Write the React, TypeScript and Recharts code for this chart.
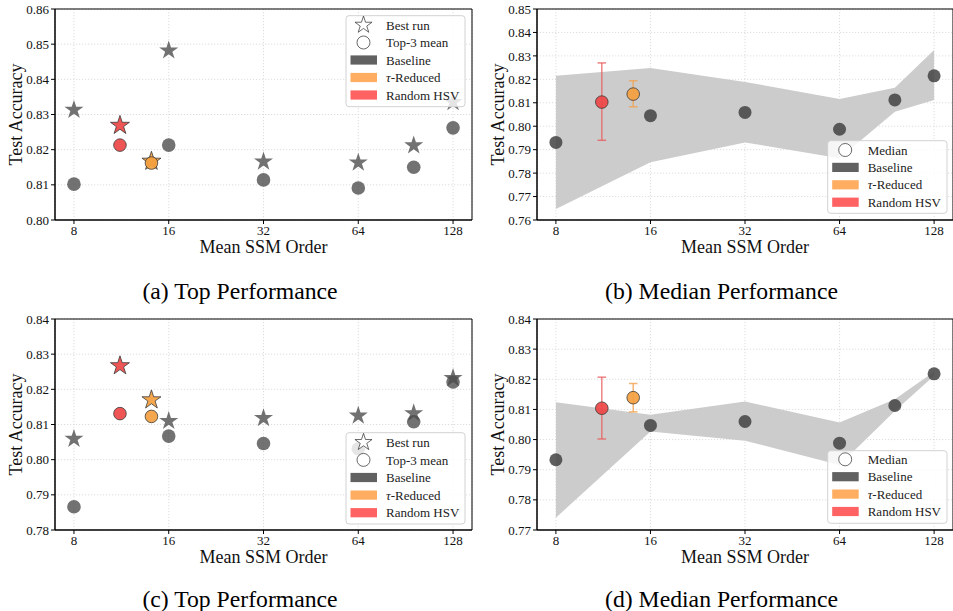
import React from 'react';
import {
  ComposedChart,
  Scatter,
  Area,
  XAxis,
  YAxis,
  CartesianGrid,
  ErrorBar,
  ReferenceArea,
} from 'recharts';

const FONT = '"Liberation Serif", "Times New Roman", serif';

// ---------- data ----------
const X_TICKS = [8, 16, 32, 64, 128];
const X_DOMAIN: [number, number] = [6.964, 147.03]; // 2^2.8 .. 2^7.2

const BASELINE_ORDERS = [8, 16, 32, 64, 96, 128];
const RANDOM_ORDER = 11.2;
const TAU_ORDER = 14.1;

// (a) Top Performance
const A_BASE_BEST = [0.8313, 0.8482, 0.8166, 0.8163, 0.8212, 0.8335];
const A_BASE_MEAN = [0.8102, 0.8213, 0.8114, 0.8091, 0.815, 0.8262];
const A_RAND_BEST = 0.8269;
const A_RAND_MEAN = 0.8213;
const A_TAU_BEST = 0.8167;
const A_TAU_MEAN = 0.8162;
const A_Y_TICKS = [0.8, 0.81, 0.82, 0.83, 0.84, 0.85, 0.86];

// (b) Median Performance
const B_BASE_MED = [0.7931, 0.8045, 0.8059, 0.7987, 0.8112, 0.8215];
const B_BAND_LOW = [0.7647, 0.7846, 0.7931, 0.7863, 0.8062, 0.8112];
const B_BAND_HIGH = [0.8215, 0.8248, 0.8189, 0.8116, 0.8164, 0.8325];
const B_RAND_MED = 0.8103;
const B_RAND_RANGE = [0.794, 0.827];
const B_TAU_MED = 0.8137;
const B_TAU_RANGE = [0.8083, 0.8194];
const B_Y_TICKS = [0.76, 0.77, 0.78, 0.79, 0.8, 0.81, 0.82, 0.83, 0.84, 0.85];

// (c) Top Performance
const C_BASE_BEST = [0.8059, 0.811, 0.8118, 0.8125, 0.8132, 0.8232];
const C_BASE_MEAN = [0.7866, 0.8067, 0.8046, 0.8031, 0.8108, 0.8221];
const C_RAND_BEST = 0.8267;
const C_RAND_MEAN = 0.8131;
const C_TAU_BEST = 0.817;
const C_TAU_MEAN = 0.8123;
const C_Y_TICKS = [0.78, 0.79, 0.8, 0.81, 0.82, 0.83, 0.84];

// (d) Median Performance
const D_BASE_MED = [0.7933, 0.8047, 0.806, 0.7988, 0.8113, 0.8218];
const D_BAND_LOW = [0.7741, 0.8027, 0.7996, 0.7916, 0.8095, 0.8212];
const D_BAND_HIGH = [0.8124, 0.8082, 0.8126, 0.8057, 0.8134, 0.8225];
const D_RAND_MED = 0.8104;
const D_RAND_RANGE = [0.8002, 0.8207];
const D_TAU_MED = 0.8139;
const D_TAU_RANGE = [0.8092, 0.8186];
const D_Y_TICKS = [0.77, 0.78, 0.79, 0.8, 0.81, 0.82, 0.83, 0.84];

// ---------- colours ----------
const RED = '#ee4646';
const ORANGE = '#f3a040';
const EDGE = '#3a3a3a';

// ---------- helpers ----------
const pts = (xs: number[], ys: number[]) => xs.map((x, i) => ({ x, y: ys[i] }));
const withErr = (x: number, y: number, range: number[]) => [
  { x, y, err: [y - range[0], range[1] - y] },
];

const starPath = (cx: number, cy: number, R: number) => {
  const r = R * 0.382;
  let d = '';
  for (let i = 0; i < 10; i++) {
    const rad = i % 2 === 0 ? R : r;
    const a = -Math.PI / 2 + (i * Math.PI) / 5;
    d += (i === 0 ? 'M' : 'L') + (cx + rad * Math.cos(a)).toFixed(2) + ',' + (cy + rad * Math.sin(a)).toFixed(2);
  }
  return d + 'Z';
};

const starShape = (fill: string, opacity: number, stroke?: string) => (p: any) => (
  <path
    d={starPath(p.cx, p.cy, 10)}
    fill={fill}
    fillOpacity={opacity}
    stroke={stroke ?? 'none'}
    strokeWidth={0.8}
  />
);

const circleShape = (fill: string, opacity: number, r: number, stroke?: string) => (p: any) => (
  <circle
    cx={p.cx}
    cy={p.cy}
    r={r}
    fill={fill}
    fillOpacity={opacity}
    stroke={stroke ?? 'none'}
    strokeWidth={0.8}
  />
);

const tickStyle = { fontFamily: FONT, fontSize: 13, fill: '#111' };

type PanelProps = {
  left: number;
  top: number;
  width: number;
  yAxisWidth: number;
  rightMargin: number;
  yTicks: number[];
  yLabelOffset: number;
  band?: { x: number; band: number[] }[];
  children: React.ReactNode;
};

function Panel({ left, top, width, yAxisWidth, rightMargin, yTicks, yLabelOffset, band, children }: PanelProps) {
  const yDomain: [number, number] = [yTicks[0], yTicks[yTicks.length - 1]];
  return (
    <div style={{ position: 'absolute', left, top }}>
      <ComposedChart
        width={width}
        height={262}
        data={band ?? []}
        margin={{ top: 9, right: rightMargin, left: 0, bottom: 0 }}
      >
        <CartesianGrid stroke="#d4d4d4" strokeDasharray="1.2 1.8" strokeWidth={0.8} />
        <XAxis
          dataKey="x"
          type="number"
          scale="log"
          domain={X_DOMAIN}
          allowDataOverflow
          ticks={X_TICKS}
          tickFormatter={(v: number) => String(v)}
          height={42}
          tickSize={4}
          tickMargin={2}
          tick={tickStyle}
          axisLine={{ stroke: '#000' }}
          tickLine={{ stroke: '#000' }}
          label={{
            value: 'Mean SSM Order',
            position: 'insideBottom',
            offset: 9,
            style: { fontFamily: FONT, fontSize: 18, fill: '#111' },
          }}
        />
        <YAxis
          type="number"
          domain={yDomain}
          allowDataOverflow
          ticks={yTicks}
          tickFormatter={(v: number) => v.toFixed(2)}
          width={yAxisWidth}
          tickSize={4}
          tickMargin={2}
          tick={tickStyle}
          axisLine={{ stroke: '#000' }}
          tickLine={{ stroke: '#000' }}
          label={{
            value: 'Test Accuracy',
            angle: -90,
            position: 'insideLeft',
            offset: yLabelOffset,
            style: { fontFamily: FONT, fontSize: 18, fill: '#111', textAnchor: 'middle' },
          }}
        />
        {children}
        <ReferenceArea
          x1={X_DOMAIN[0]}
          x2={X_DOMAIN[1]}
          y1={yDomain[0]}
          y2={yDomain[1]}
          fill="none"
          fillOpacity={0}
          stroke="#000"
          strokeWidth={1}
          ifOverflow="visible"
        />
      </ComposedChart>
    </div>
  );
}

function topSeries(
  baseBest: number[],
  baseMean: number[],
  randBest: number,
  randMean: number,
  tauBest: number,
  tauMean: number
) {
  return [
    <Scatter key="bb" data={pts(BASELINE_ORDERS, baseBest)} dataKey="y" isAnimationActive={false} shape={starShape('#4a4a4a', 0.78)} />,
    <Scatter key="bm" data={pts(BASELINE_ORDERS, baseMean)} dataKey="y" isAnimationActive={false} shape={circleShape('#4a4a4a', 0.78, 6.8)} />,
    <Scatter key="rb" data={[{ x: RANDOM_ORDER, y: randBest }]} dataKey="y" isAnimationActive={false} shape={starShape(RED, 0.92, EDGE)} />,
    <Scatter key="rm" data={[{ x: RANDOM_ORDER, y: randMean }]} dataKey="y" isAnimationActive={false} shape={circleShape(RED, 0.92, 6.3, EDGE)} />,
    <Scatter key="tb" data={[{ x: TAU_ORDER, y: tauBest }]} dataKey="y" isAnimationActive={false} shape={starShape(ORANGE, 0.92, EDGE)} />,
    <Scatter key="tm" data={[{ x: TAU_ORDER, y: tauMean }]} dataKey="y" isAnimationActive={false} shape={circleShape(ORANGE, 0.92, 6.3, EDGE)} />,
  ];
}

function medianSeries(
  baseMed: number[],
  randMed: number,
  randRange: number[],
  tauMed: number,
  tauRange: number[]
) {
  return [
    <Area key="band" dataKey="band" type="linear" fill="#cccccc" fillOpacity={1} stroke="none" isAnimationActive={false} />,
    <Scatter key="bm" data={pts(BASELINE_ORDERS, baseMed)} dataKey="y" isAnimationActive={false} shape={circleShape('#444444', 0.86, 6.5)} />,
    <Scatter key="rm" data={withErr(RANDOM_ORDER, randMed, randRange)} dataKey="y" isAnimationActive={false} shape={circleShape(RED, 0.92, 6.3, EDGE)}>
      <ErrorBar dataKey="err" direction="y" width={4.3} stroke="#ea5a5a" strokeOpacity={0.75} strokeWidth={1.5} />
    </Scatter>,
    <Scatter key="tm" data={withErr(TAU_ORDER, tauMed, tauRange)} dataKey="y" isAnimationActive={false} shape={circleShape(ORANGE, 0.92, 6.3, EDGE)}>
      <ErrorBar dataKey="err" direction="y" width={4.3} stroke="#f3a250" strokeOpacity={0.8} strokeWidth={1.5} />
    </Scatter>,
  ];
}

const bandData = (low: number[], high: number[]) =>
  BASELINE_ORDERS.map((x, i) => ({ x, band: [low[i], high[i]] }));

// ---------- legends & captions (overlay) ----------
type Row = { kind: 'star' | 'circle' | 'patch'; color?: string; label: React.ReactNode };

const TOP_ROWS: Row[] = [
  { kind: 'star', label: 'Best run' },
  { kind: 'circle', label: 'Top-3 mean' },
  { kind: 'patch', color: '#616161', label: 'Baseline' },
  { kind: 'patch', color: '#ffad60', label: <><tspan fontStyle="italic">τ</tspan>-Reduced</> },
  { kind: 'patch', color: '#ff6262', label: 'Random HSV' },
];
const MED_ROWS: Row[] = [
  { kind: 'circle', label: 'Median' },
  { kind: 'patch', color: '#616161', label: 'Baseline' },
  { kind: 'patch', color: '#ffad60', label: <><tspan fontStyle="italic">τ</tspan>-Reduced</> },
  { kind: 'patch', color: '#ff6262', label: 'Random HSV' },
];

function LegendBox({ x, y, w, h, rows, firstRow, step }: { x: number; y: number; w: number; h: number; rows: Row[]; firstRow: number; step: number }) {
  const ix = x + 17.5;
  return (
    <g>
      <rect x={x} y={y} width={w} height={h} rx={3} fill="#ffffff" fillOpacity={0.82} stroke="#d2d2d2" strokeWidth={1} />
      {rows.map((r, i) => {
        const cy = firstRow + i * step;
        let icon: React.ReactNode;
        if (r.kind === 'star') icon = <path d={starPath(ix, cy, 9)} fill="#fff" stroke="#444" strokeWidth={0.8} />;
        else if (r.kind === 'circle') icon = <circle cx={ix} cy={cy} r={6.5} fill="#fff" stroke="#444" strokeWidth={0.8} />;
        else icon = <rect x={ix - 13} y={cy - 4.6} width={26.5} height={9.2} fill={r.color} />;
        return (
          <g key={i}>
            {icon}
            <text x={x + 40} y={cy + 4.6} fontFamily={FONT} fontSize={13} fill="#222">
              {r.label}
            </text>
          </g>
        );
      })}
    </g>
  );
}

function Overlay() {
  const cap = { fontFamily: FONT, fontSize: 23.7, fill: '#000', textAnchor: 'middle' as const };
  return (
    <svg width={953} height={611} style={{ position: 'absolute', left: 0, top: 0, pointerEvents: 'none' }}>
      <LegendBox x={346} y={15.7} w={119} h={91} rows={TOP_ROWS} firstRow={25} step={17.5} />
      <LegendBox x={827.7} y={140.7} w={119.3} h={72.6} rows={MED_ROWS} firstRow={150} step={17.4} />
      <LegendBox x={346} y={432.7} w={119} h={91.3} rows={TOP_ROWS} firstRow={442.3} step={17.6} />
      <LegendBox x={827.7} y={450.7} w={119.3} h={72.6} rows={MED_ROWS} firstRow={459.3} step={17.4} />
      <text x={240} y={298.5} {...cap}>(a) Top Performance</text>
      <text x={721.5} y={298.5} {...cap}>(b) Median Performance</text>
      <text x={240} y={606.5} {...cap}>(c) Top Performance</text>
      <text x={721.5} y={606.5} {...cap}>(d) Median Performance</text>
    </svg>
  );
}

export default function App() {
  return (
    <div style={{ position: 'absolute', left: 0, top: 0, width: 953, height: 611, background: '#fff', overflow: 'hidden' }}>
      <Panel left={0} top={0} width={476} yAxisWidth={55} rightMargin={4} yTicks={A_Y_TICKS} yLabelOffset={16}>
        {topSeries(A_BASE_BEST, A_BASE_MEAN, A_RAND_BEST, A_RAND_MEAN, A_TAU_BEST, A_TAU_MEAN)}
      </Panel>
      <Panel left={476} top={0} width={477} yAxisWidth={61} rightMargin={0} yTicks={B_Y_TICKS} yLabelOffset={22} band={bandData(B_BAND_LOW, B_BAND_HIGH)}>
        {medianSeries(B_BASE_MED, B_RAND_MED, B_RAND_RANGE, B_TAU_MED, B_TAU_RANGE)}
      </Panel>
      <Panel left={0} top={310} width={476} yAxisWidth={55} rightMargin={4} yTicks={C_Y_TICKS} yLabelOffset={16}>
        {topSeries(C_BASE_BEST, C_BASE_MEAN, C_RAND_BEST, C_RAND_MEAN, C_TAU_BEST, C_TAU_MEAN)}
      </Panel>
      <Panel left={476} top={310} width={477} yAxisWidth={61} rightMargin={0} yTicks={D_Y_TICKS} yLabelOffset={22} band={bandData(D_BAND_LOW, D_BAND_HIGH)}>
        {medianSeries(D_BASE_MED, D_RAND_MED, D_RAND_RANGE, D_TAU_MED, D_TAU_RANGE)}
      </Panel>
      <Overlay />
    </div>
  );
}
